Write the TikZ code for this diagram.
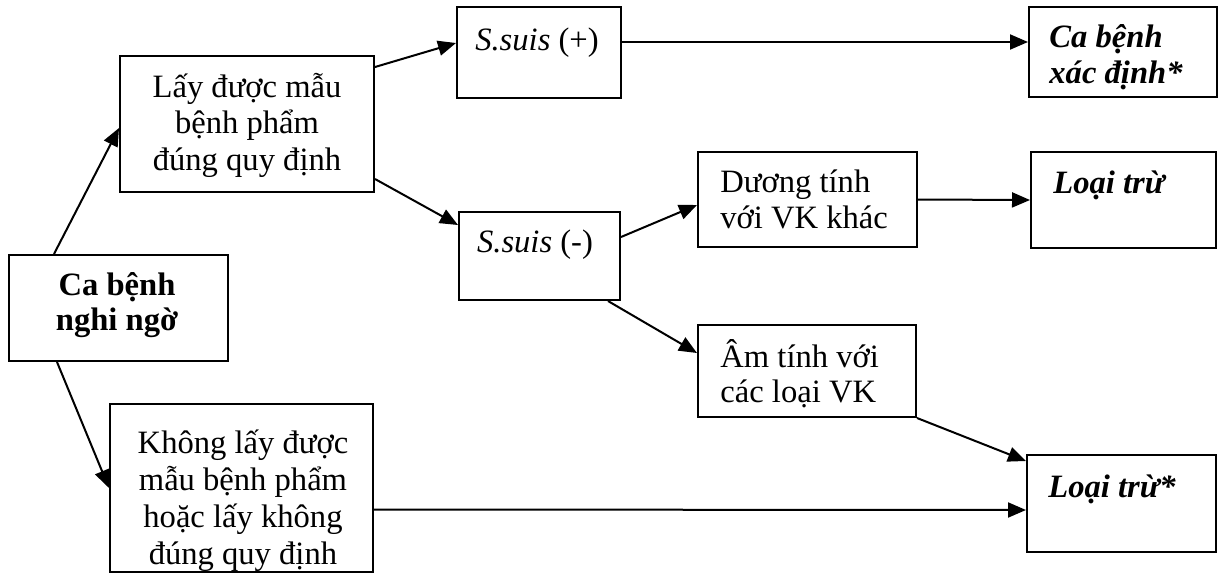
\documentclass[tikz,border=0pt]{standalone}
\usepackage{fontspec}
\setmainfont{Liberation Serif}
\usetikzlibrary{arrows.meta,fit,calc}
\newcommand\ctr[2][18.25pt]{\vtop{\lineskiplimit=-\maxdimen\baselineskip=#1\halign{\hfil##\hfil\cr#2\crcr}}}
\newcommand\lft[2][18.25pt]{\vtop{\lineskiplimit=-\maxdimen\baselineskip=#1\halign{##\hfil\cr#2\crcr}}}
\begin{document}
\begin{tikzpicture}[x=0.5pt,y=-0.5pt,
  box/.style={draw, line width=1pt, inner sep=0pt, rectangle},
  arr/.style={line width=1pt, -{Triangle[length=9pt,width=7.5pt]}},
  txt/.style={inner sep=0pt, font=\fontsize{16.3pt}{18.25pt}\selectfont},
]
\useasboundingbox (0,0) rectangle (1219,574);

% boxes
\node[box, fit={(9,255) (228,361)}] (cbnn) {};
\node[box, fit={(120,56) (374,192)}] (lay) {};
\node[box, fit={(110,404) (373,572)}] (khong) {};
\node[box, fit={(457,7) (621,98)}] (sp) {};
\node[box, fit={(459,212) (620,300)}] (sm) {};
\node[box, fit={(698,152) (917,247)}] (duong) {};
\node[box, fit={(698,325) (916,417)}] (am) {};
\node[box, fit={(1029,7) (1217,97)}] (cbxd) {};
\node[box, fit={(1031,152) (1216,248)}] (lt) {};
\node[box, fit={(1027,455) (1216,552)}] (lts) {};

% texts
\node[txt, anchor=base] (cbnn-t) at (117,295) {\bfseries\ctr[17.5pt]{Ca bệnh\cr nghi ngờ}};
\node[txt, anchor=base] (lay-t) at (247,97) {\ctr{Lấy được mẫu\cr bệnh phẩm\cr đúng quy định}};
\node[txt, anchor=base] (khong-t) at (243,453) {\ctr[18.5pt]{Không lấy được\cr mẫu bệnh phẩm\cr hoặc lấy không\cr đúng quy định}};
\node[txt, anchor=base] (sp-t) at (537,50) {\textit{S.suis} (+)};
\node[txt, anchor=base] (sm-t) at (535,252) {\textit{S.suis} (-)};
\node[txt, anchor=base west] (duong-t) at (720,192) {\lft[18pt]{Dương tính\cr với VK khác}};
\node[txt, anchor=base west] (am-t) at (720,367) {\lft[17.5pt]{Âm tính với\cr các loại VK}};
\node[txt, anchor=base west] (cbxd-t) at (1049,47) {\bfseries\itshape\lft[18pt]{Ca bệnh\cr xác định*}};
\node[txt, anchor=base west] (lt-t) at (1053,193) {\bfseries\itshape Loại trừ};
\node[txt, anchor=base west] (lts-t) at (1048,497) {\bfseries\itshape Loại trừ*};

% connectors
\draw[arr] ($(cbnn.north west)+(46,0)$) -- ($(lay.west)+(0,4)$);
\draw[arr] ($(cbnn.south west)+(49,0)$) -- (khong.west);
\draw[arr] ($(lay.east)+(0,-57)$) -- ($(sp.west)+(0,-9.5)$);
\draw[arr] ($(lay.east)+(0,55)$) -- ($(sm.west)+(0,-31)$);
\draw[arr] ($(sp.east)+(0,-10.5)$) -- ($(cbxd.west)+(0,-10)$);
\draw[arr] ($(sm.east)+(0,-19)$) -- ($(duong.west)+(0,5.5)$);
\draw[arr] ($(sm.south east)+(-13,0)$) -- ($(am.west)+(0,-18)$);
\draw[arr] (duong.east) -- (lt.west);
\draw[arr] (am.south east) -- ($(lts.north west)+(0,7)$);
\draw[arr] ($(khong.east)+(0,21.5)$) -- ($(lts.west)+(0,6.5)$);
\end{tikzpicture}
\end{document}
